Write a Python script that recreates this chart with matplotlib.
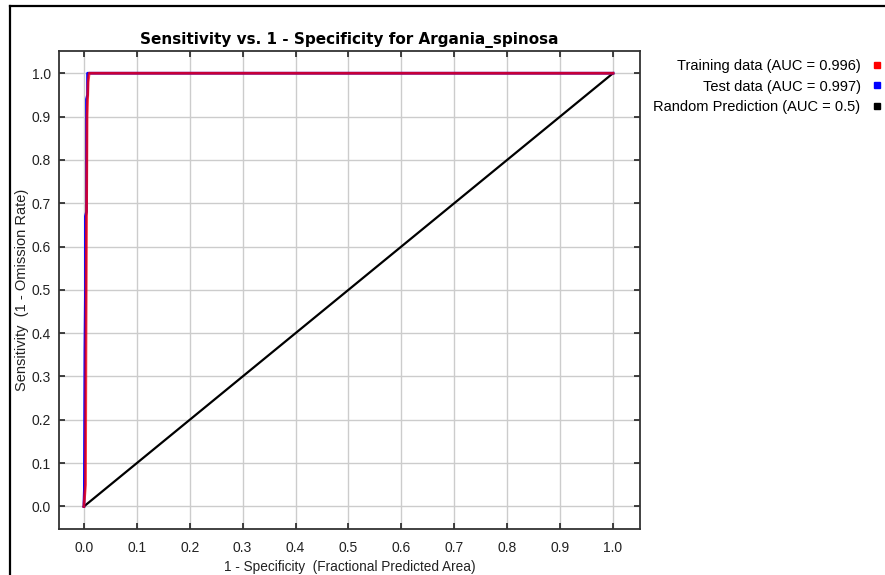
import matplotlib
matplotlib.use("Agg")
import matplotlib.pyplot as plt
from matplotlib.lines import Line2D

# ROC curve points (fraction of predicted area, sensitivity)
train_fpa = [0.0, 0.003, 0.004, 0.005, 0.006, 0.008, 0.010, 1.0]
train_sens = [0.0, 0.05, 0.40, 0.67, 0.90, 0.98, 1.0, 1.0]

test_fpa = [0.0, 0.001, 0.002, 0.003, 0.003, 0.005, 0.005, 0.007, 0.007, 1.0]
test_sens = [0.0, 0.04, 0.36, 0.50, 0.67, 0.68, 0.94, 0.95, 1.0, 1.0]

random_fpa = [0.0, 1.0]
random_sens = [0.0, 1.0]

legend_labels = [
    "Training data (AUC = 0.996)",
    "Test data (AUC = 0.997)",
    "Random Prediction (AUC = 0.5)",
]
legend_colors = ["#ff0000", "#0000ff", "#000000"]

ticks = [0.0, 0.1, 0.2, 0.3, 0.4, 0.5, 0.6, 0.7, 0.8, 0.9, 1.0]
tick_labels = ["0.0", "0.1", "0.2", "0.3", "0.4", "0.5", "0.6", "0.7", "0.8", "0.9", "1.0"]

plt.rcParams["font.family"] = ["Liberation Sans", "DejaVu Sans"]

fig = plt.figure(figsize=(8.85, 5.75), dpi=100)
ax = fig.add_axes([59 / 885, 1 - 529 / 575, (640 - 59) / 885, (529 - 50.7) / 575])

ax.plot(random_fpa, random_sens, color="black", lw=1.6, zorder=3)
ax.plot(test_fpa, test_sens, color="#0000ff", lw=2.0, zorder=4)
ax.plot(train_fpa, train_sens, color="#ff0000", lw=2.0, alpha=0.78, zorder=5)

ax.set_xlim(-0.047, 1.051)
ax.set_ylim(-0.052, 1.052)
ax.set_xticks(ticks)
ax.set_xticklabels(tick_labels)
ax.set_yticks(ticks)
ax.set_yticklabels(tick_labels)
ax.tick_params(axis="both", which="both", direction="in", length=4, width=1.2,
               color="#222222", labelcolor="#222222", labelsize=10,
               top=True, right=True, pad=6)
ax.tick_params(axis="x", pad=9)
ax.grid(True, color="#cccccc", lw=1.0)
ax.set_axisbelow(True)
for sp in ax.spines.values():
    sp.set_color("#333333")
    sp.set_linewidth(1.3)

ax.set_title("Sensitivity vs. 1 - Specificity for Argania_spinosa",
             fontsize=11, fontweight="bold", family="DejaVu Sans", pad=5)
ax.set_xlabel("1 - Specificity  (Fractional Predicted Area)", fontsize=9.8, labelpad=3,
              color="#222222")
ax.set_ylabel("Sensitivity  (1 - Omission Rate)", fontsize=10.5, labelpad=2,
              color="#222222")

handles = [Line2D([], [], marker="s", linestyle="none", markersize=5,
                  markerfacecolor=c, markeredgecolor=c) for c in legend_colors]
fig.legend(handles, legend_labels, loc="upper right",
           bbox_to_anchor=(881 / 885, 1 - 59 / 575), frameon=False,
           markerfirst=False, fontsize=10.5, handlelength=0.5, handletextpad=0.9,
           labelspacing=0.45, borderaxespad=0, borderpad=0)

# outer frame along the left and top edges
fig.add_artist(Line2D([10 / 885, 10 / 885], [0, 1 - 6 / 575],
                      transform=fig.transFigure, color="black", lw=1.6))
fig.add_artist(Line2D([10 / 885, 1], [1 - 6 / 575, 1 - 6 / 575],
                      transform=fig.transFigure, color="black", lw=1.6))

fig.savefig("out.png", dpi=100)
